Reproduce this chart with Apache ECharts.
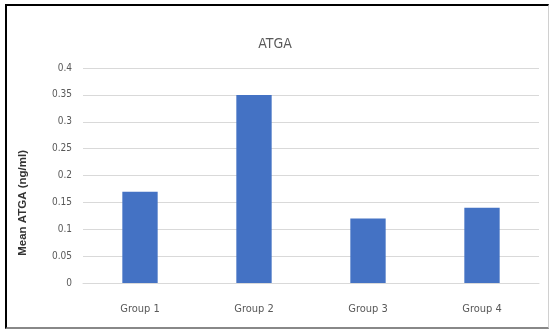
<!DOCTYPE html>
<html>
<head>
<meta charset="utf-8">
<script src="https://cdn.jsdelivr.net/npm/echarts@6/dist/echarts.min.js"></script>
<style>
html,body{margin:0;padding:0;background:#fff;}
#chart{position:absolute;left:0;top:0;width:549px;height:329px;}
#frame{position:absolute;left:5px;top:4px;width:541px;height:321px;border-left:2px solid #000;border-top:2px solid #000;border-right:1px solid #d0d0d0;border-bottom:2px solid #888;pointer-events:none;}
</style>
</head>
<body>
<div id="chart"></div>
<div id="frame"></div>
<script>
const categories = ['Group 1', 'Group 2', 'Group 3', 'Group 4'];
const values = [0.17, 0.35, 0.12, 0.14];
const yTicks = ['0', '0.05', '0.1', '0.15', '0.2', '0.25', '0.3', '0.35', '0.4'];
const titleText = 'ATGA';
const yName = 'Mean ATGA (ng/ml)';

const FONT = '"DejaVu Sans Condensed", "Liberation Sans Narrow", "Open Sans", sans-serif';
const chart = echarts.init(document.getElementById('chart'), null, {renderer: 'canvas'});
chart.setOption({
  animation: false,
  backgroundColor: '#fff',
  title: {
    text: titleText, left: 270, top: 32, textAlign: 'center',
    textStyle: {fontFamily: FONT, fontSize: 14, fontWeight: 'normal', color: '#595959'}
  },
  grid: {left: 83, right: 10, top: 68, bottom: 46},
  xAxis: {
    type: 'category', data: categories,
    axisLine: {show: true, lineStyle: {color: '#d9d9d9'}},
    axisTick: {show: false},
    axisLabel: {fontFamily: FONT, fontSize: 11, color: '#595959', margin: 21}
  },
  yAxis: {
    type: 'value', min: 0, max: 0.4, interval: 0.05,
    axisLine: {show: false}, axisTick: {show: false},
    splitLine: {lineStyle: {color: '#d9d9d9', width: 1}},
    axisLabel: {
      fontFamily: FONT, fontSize: 10, color: '#595959', margin: 11,
      formatter: function (v) { const i = Math.round(v / 0.05); return yTicks[i] !== undefined ? yTicks[i] : ''; }
    }
  },
  graphic: [{
    type: 'text', left: 17, top: 150, rotation: Math.PI / 2,
    style: {text: yName, fontFamily: '"Liberation Sans", Arial, sans-serif', fontSize: 11.5, fontWeight: 'bold', fill: '#333333'}
  }],
  series: [{
    type: 'bar', data: values, barWidth: '31%',
    itemStyle: {color: '#4472C4'}
  }]
});
</script>
</body>
</html>
